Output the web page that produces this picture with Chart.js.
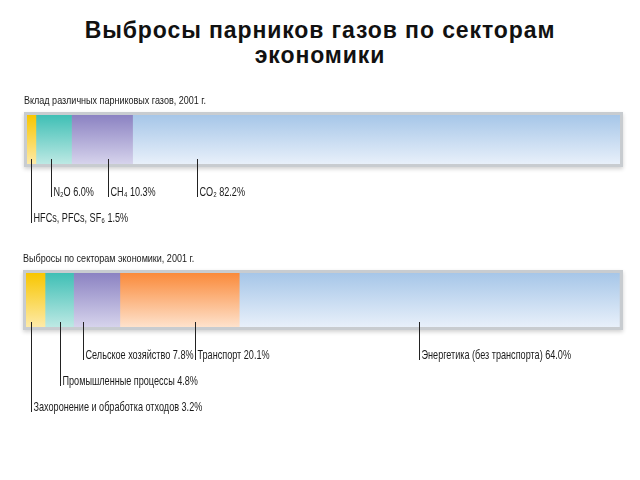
<!DOCTYPE html>
<html lang="ru">
<head>
<meta charset="UTF-8" />
<title>Выбросы парников газов по секторам экономики</title>
<style>
  body{margin:0;width:640px;height:480px;background:#fff;position:relative;overflow:hidden}
  h1{position:absolute;left:0;top:18px;width:640px;margin:0;text-align:center;
     font:bold 23px "Liberation Sans",Arial,sans-serif;line-height:25px;letter-spacing:0.9px;color:#111}
  .box{position:absolute;left:0;width:640px}
  #box1{top:85px;height:150px}
  #box2{top:240px;height:180px}
</style>
</head>
<body>
<h1>Выбросы парников газов по секторам<br>экономики</h1>
<div class="box" id="box1"><canvas id="gases"></canvas></div>
<div class="box" id="box2"><canvas id="sectors"></canvas></div>

<script src="https://cdn.jsdelivr.net/npm/chart.js"></script>
<script>
// ---- data ----
const gasTitle = 'Вклад различных парниковых газов, 2001 г.';
const gasNames = ['HFCs, PFCs, SF₆', 'N₂O', 'CH₄', 'CO₂'];
const gasValues = [1.5, 6.0, 10.3, 82.2];

const sectorTitle = 'Выбросы по секторам экономики, 2001 г.';
const sectorNames = ['Захоронение и обработка отходов', 'Промышленные процессы', 'Сельское хозяйство', 'Транспорт', 'Энергетика (без транспорта)'];
const sectorValues = [3.2, 4.8, 7.8, 20.1, 64.0];

// ---- layout / style ----
const FONT = '"Liberation Sans",Arial,sans-serif';
const gasLeader = {at:[0.7, 4.0, 13.7, 28.7], row:[1, 0, 0, 0]};
const sectorLeader = {at:[0.85, 5.7, 9.6, 28.5, 66.2], row:[2, 1, 0, 0, 0]};
const gasColors = [['#f8c600','#fdeaa8'], ['#3fbfb5','#bde9e4'], ['#8b82c2','#d6d3ec'], ['#a6c6e8','#e8f0fa']];
const sectorColors = [['#f8c600','#fdeaa8'], ['#3fbfb5','#bde9e4'], ['#8b82c2','#d6d3ec'], ['#fa8a3a','#fee2cc'], ['#a6c6e8','#e8f0fa']];

function gradient(pair){
  return c => {
    const {ctx, chartArea} = c.chart;
    if(!chartArea) return pair[0];
    const g = ctx.createLinearGradient(0, chartArea.top, 0, chartArea.bottom);
    g.addColorStop(0, pair[0]);
    g.addColorStop(1, pair[1]);
    return g;
  };
}

// condensed text: squeeze horizontally
function narrowText(ctx, text, x, y, size, squeeze){
  ctx.save();
  ctx.font = size + 'px ' + FONT;
  ctx.translate(x, y);
  ctx.scale(squeeze, 1);
  ctx.fillText(text, 0, 0);
  ctx.restore();
}

// frame, subtitle and leader labels
const decor = {
  id:'decor',
  beforeDatasetsDraw(chart, args, o){
    const {ctx, chartArea:a} = chart;
    ctx.save();
    ctx.shadowColor = 'rgba(0,0,0,0.18)';
    ctx.shadowBlur = 4; ctx.shadowOffsetY = 2;
    ctx.fillStyle = '#c8ccd0';
    ctx.fillRect(a.left-3, a.top-3, a.right-a.left+6, a.bottom-a.top+6);
    ctx.restore();
  },
  afterDraw(chart, args, o){
    const {ctx, chartArea:a} = chart;
    const x = chart.scales.x;
    ctx.save();
    ctx.fillStyle = '#1a1a1a';
    ctx.textBaseline = 'alphabetic';
    narrowText(ctx, o.title, a.left-3, a.top-11, 11, 0.82);
    ctx.strokeStyle = '#222';
    ctx.lineWidth = 1;
    chart.data.datasets.forEach((ds, i) => {
      const px = Math.round(x.getPixelForValue(o.leader.at[i])) + 0.5;
      const end = a.bottom + 33 + 26*o.leader.row[i];
      ctx.beginPath();
      ctx.moveTo(px, a.bottom - 5);
      ctx.lineTo(px, end);
      ctx.stroke();
      narrowText(ctx, ds.label + ' ' + ds.data[0].toFixed(1) + '%', px + 2, end - 1, 13, 0.70);
    });
    ctx.restore();
  }
};

function makeChart(id, names, values, colors, title, leader, pad){
  return new Chart(document.getElementById(id), {
    type:'bar',
    data:{
      labels:[''],
      datasets: names.map((n, i) => ({
        label:n, data:[values[i]], backgroundColor:gradient(colors[i]),
        borderWidth:0, barPercentage:1, categoryPercentage:1, stack:'s'
      }))
    },
    options:{
      indexAxis:'y', responsive:true, maintainAspectRatio:false, animation:false,
      layout:{padding:pad},
      scales:{
        x:{stacked:true, min:0, max:100, display:false},
        y:{stacked:true, display:false}
      },
      plugins:{legend:{display:false}, tooltip:{enabled:false},
        decor:{title, leader}}
    },
    plugins:[decor]
  });
}

makeChart('gases', gasNames, gasValues, gasColors, gasTitle, gasLeader,
  {left:27, right:20, top:30, bottom:71});
makeChart('sectors', sectorNames, sectorValues, sectorColors, sectorTitle, sectorLeader,
  {left:26, right:20, top:33, bottom:93});
</script>
</body>
</html>
